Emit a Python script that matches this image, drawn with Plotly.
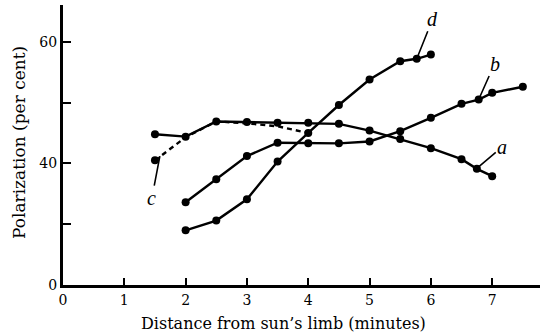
import plotly.graph_objects as go

# Distance from sun's limb (minutes)
a_x = [1.5, 2.0, 2.5, 3.0, 3.5, 4.0, 4.5, 5.0, 5.5, 6.0, 6.5, 6.75, 7.0]
a_y = [44.8, 44.4, 46.9, 46.8, 46.7, 46.7, 46.5, 45.4, 44.0, 42.5, 40.7, 39.1, 37.9]

b_x = [2.0, 2.5, 3.0, 3.5, 4.0, 4.5, 5.0, 5.5, 6.0, 6.5, 6.78, 7.0, 7.5]
b_y = [33.6, 37.4, 41.2, 43.4, 43.3, 43.3, 43.6, 45.3, 47.5, 49.8, 50.5, 51.6, 52.6]

c_x = [1.5, 2.0, 2.5, 3.0, 3.5, 4.0]
c_y = [40.5, 44.3, 46.9, 46.6, 46.1, 45.0]

d_x = [2.0, 2.5, 3.0, 3.5, 4.0, 4.5, 5.0, 5.5, 5.77, 6.0]
d_y = [29.0, 30.6, 34.1, 40.3, 45.0, 49.6, 53.8, 56.8, 57.2, 57.9]

x_ticks = [0, 1, 2, 3, 4, 5, 6, 7]
y_tickvals = [20, 30, 40, 50, 60]
y_ticktext = ["0", "", "40", "", "60"]

x_title = "Distance from sun\u2019s limb (minutes)"
y_title = "Polarization (per cent)"

SERIF = "DejaVu Serif"
fig = go.Figure()

def add_curve(x, y, dash="solid", mode="lines+markers"):
    fig.add_trace(go.Scatter(
        x=x, y=y, mode=mode,
        line=dict(color="black", width=2.4, dash=dash),
        marker=dict(color="black", size=8),
        showlegend=False, hoverinfo="skip"))

add_curve(c_x, c_y, dash="5px,4px", mode="lines")
add_curve(c_x[:1], c_y[:1], mode="markers")
add_curve(a_x, a_y)
add_curve(b_x, b_y)
add_curve(d_x, d_y)

def label(text, x, y, ax, ay):
    fig.add_annotation(x=x, y=y, ax=ax, ay=ay, text=text, showarrow=True,
                       arrowhead=0, arrowwidth=1.6, arrowcolor="black",
                       font=dict(family="Liberation Serif", size=20, color="black"),
                       xref="x", yref="y")

label("<i>d</i>", 5.77, 57.2, 16, -40)
label("<i>b</i>", 6.78, 50.5, 16, -36)
label("<i>a</i>", 6.74, 39.1, 26, -22)
label("<i>c</i>", 1.58, 41.2, -8, 42)

# axis titles placed as in the original figure
W, H = 542, 336
fig.add_annotation(text=x_title, xref="paper", yref="paper", showarrow=False,
                   x=(283 - 63) / (W - 65), y=-(323 - 285) / (H - 56),
                   xanchor="center", yanchor="middle",
                   font=dict(family=SERIF, size=16, color="black"))
fig.add_annotation(text=y_title, xref="paper", yref="paper", showarrow=False,
                   x=-(63 - 19) / (W - 65), y=(285 - 143) / (H - 56),
                   xanchor="center", yanchor="middle", textangle=-90,
                   font=dict(family=SERIF, size=17, color="black"))

fig.update_layout(
    width=W, height=H,
    margin=dict(l=63, r=2, t=5, b=51, autoexpand=False),
    paper_bgcolor="white", plot_bgcolor="white",
    font=dict(family=SERIF, size=14, color="black"),
    xaxis=dict(range=[0, 7.78], tickvals=x_ticks, ticks="inside", ticklen=7,
               tickwidth=2, tickcolor="black", showline=True, linewidth=3,
               linecolor="black", showgrid=False, zeroline=False,
               automargin=False, tickfont=dict(family=SERIF, size=14)),
    yaxis=dict(range=[20, 66.05], tickvals=y_tickvals, ticktext=y_ticktext,
               ticks="inside", ticklen=8, tickwidth=2, tickcolor="black",
               showline=True, linewidth=3, linecolor="black", showgrid=False,
               zeroline=False, automargin=False,
               tickfont=dict(family=SERIF, size=14)),
)

fig.write_html("out.html", config={"displayModeBar": False},
               post_script="document.body.style.margin='0';document.body.style.overflow='hidden';")
